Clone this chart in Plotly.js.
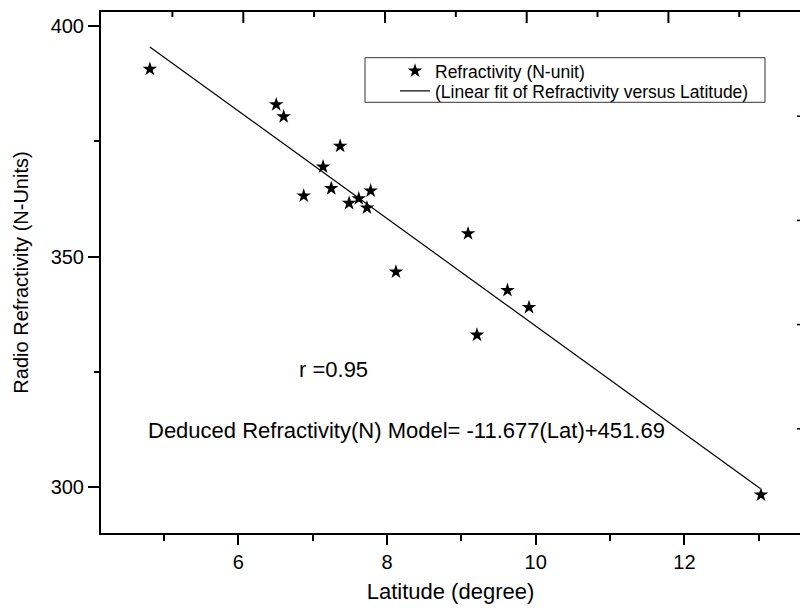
<!DOCTYPE html>
<html>
<head>
<meta charset="utf-8">
<script src="https://cdn.plot.ly/plotly-3.0.1.min.js"></script>
<style>html,body{margin:0;padding:0;background:#fff;}#chart{width:800px;height:608px;}</style>
</head>
<body>
<div id="chart"></div>
<script>
const latitude = [4.81, 6.51, 6.61, 7.37, 7.14, 6.88, 7.25, 7.49, 7.62, 7.78, 7.73, 8.12, 9.09, 9.62, 9.91, 9.21, 13.03];
const refractivity = [390.7, 383.0, 380.4, 374.0, 369.5, 363.2, 364.8, 361.6, 362.6, 364.3, 360.6, 346.7, 355.0, 342.7, 339.0, 333.0, 298.3];
// Linear fit line end points
const fitLatitude = [4.81, 13.02];
const fitRefractivity = [395.5, 299.7];
// Text
const seriesName = 'Refractivity (N-unit)';
const fitName = '(Linear fit of Refractivity versus Latitude)';
const rText = 'r =0.95';
const modelText = 'Deduced Refractivity(N) Model= -11.677(Lat)+451.69';

const FONT = 'Liberation Sans, Arial, Helvetica, sans-serif';
const PL = 101, PR = 800, PT = 12, PB = 533;
const px2paperX = p => (p - PL) / (PR - PL);
const px2paperY = p => (PB - p) / (PB - PT);
const pxH = h => h / (PB - PT);

const traces = [
  {
    x: latitude, y: refractivity, type: 'scatter', mode: 'markers', name: seriesName,
    marker: {symbol: 'star', size: 11, color: '#000', line: {width: 0}},
    legend: 'legend'
  },
  {
    x: fitLatitude, y: fitRefractivity, type: 'scatter', mode: 'lines', name: fitName,
    line: {color: '#000', width: 1.2},
    legend: 'legend2'
  }
];

// Frame decorations: inward tick marks on the top border, small marks at the right edge
const frameShapes = [];
for (let k = 0; k < 4; k++) {
  const xp = px2paperX(243.3 + k * 141.7);
  frameShapes.push({type: 'line', layer: 'above', xref: 'paper', yref: 'paper', x0: xp, x1: xp, y0: 1, y1: 1 - pxH(11),
    line: {color: '#000', width: 2}});
}
for (let k = 0; k < 5; k++) {
  const xp = px2paperX(172.4 + k * 141.7);
  frameShapes.push({type: 'line', layer: 'above', xref: 'paper', yref: 'paper', x0: xp, x1: xp, y0: 1, y1: 1 - pxH(5),
    line: {color: '#000', width: 2}});
}
[0.8, 0.6, 0.4, 0.2].forEach(v => frameShapes.push({
  type: 'line', layer: 'above', xref: 'paper', yref: 'paper', x0: px2paperX(797), x1: 1, y0: v, y1: v,
  line: {color: '#000', width: 1.5}
}));

const layout = {
  width: 800, height: 608,
  margin: {l: PL, r: 800 - PR, t: PT, b: 608 - PB},
  paper_bgcolor: '#fff', plot_bgcolor: '#fff',
  font: {family: FONT, color: '#000'},
  showlegend: true,
  xaxis: {
    range: [4.153, 13.555], showgrid: false, zeroline: false,
    showline: true, mirror: true, linecolor: '#000', linewidth: 2,
    ticks: 'outside', ticklen: 10, tickwidth: 2, tickcolor: '#000',
    tick0: 0, dtick: 2,
    minor: {ticks: 'outside', ticklen: 6, tickwidth: 2, tickcolor: '#000', dtick: 1, tick0: 0, showgrid: false},
    tickfont: {family: FONT, size: 20, color: '#000'},
    title: {text: 'Latitude (degree)', font: {family: FONT, size: 22, color: '#000'}, standoff: 12}
  },
  yaxis: {
    range: [290.02, 403.1], showgrid: false, zeroline: false,
    showline: true, linecolor: '#000', linewidth: 2,
    ticks: 'outside', ticklen: 11, tickwidth: 2, tickcolor: '#000',
    tick0: 0, dtick: 50,
    minor: {ticks: 'outside', ticklen: 5, tickwidth: 2, tickcolor: '#000', dtick: 25, tick0: 0, showgrid: false},
    tickfont: {family: FONT, size: 20, color: '#000'},
    title: {text: 'Radio Refractivity (N-Units)', font: {family: FONT, size: 20, color: '#000'}, standoff: 17}
  },
  legend: {
    x: px2paperX(395), y: px2paperY(53), xanchor: 'left', yanchor: 'top',
    bgcolor: 'rgba(0,0,0,0)', borderwidth: 0,
    font: {family: FONT, size: 17.5, color: '#000'}
  },
  legend2: {
    x: px2paperX(395), y: px2paperY(73), xanchor: 'left', yanchor: 'top',
    bgcolor: 'rgba(0,0,0,0)', borderwidth: 0,
    font: {family: FONT, size: 17.5, color: '#000'}
  },
  shapes: [
    {type: 'rect', xref: 'paper', yref: 'paper',
     x0: px2paperX(365), x1: px2paperX(765), y0: px2paperY(102.3), y1: px2paperY(57.7),
     line: {color: '#333', width: 1}, fillcolor: 'rgba(0,0,0,0)'}
  ].concat(frameShapes),
  annotations: [
    {x: 6.785, y: 325.4, xref: 'x', yref: 'y', xanchor: 'left', yanchor: 'middle', showarrow: false,
     text: rText, font: {family: FONT, size: 22, color: '#000'}},
    {x: 4.755, y: 312.2, xref: 'x', yref: 'y', xanchor: 'left', yanchor: 'middle', showarrow: false,
     text: modelText, font: {family: FONT, size: 22, color: '#000'}}
  ]
};

Plotly.newPlot('chart', traces, layout, {displayModeBar: false, staticPlot: true});
</script>
</body>
</html>
